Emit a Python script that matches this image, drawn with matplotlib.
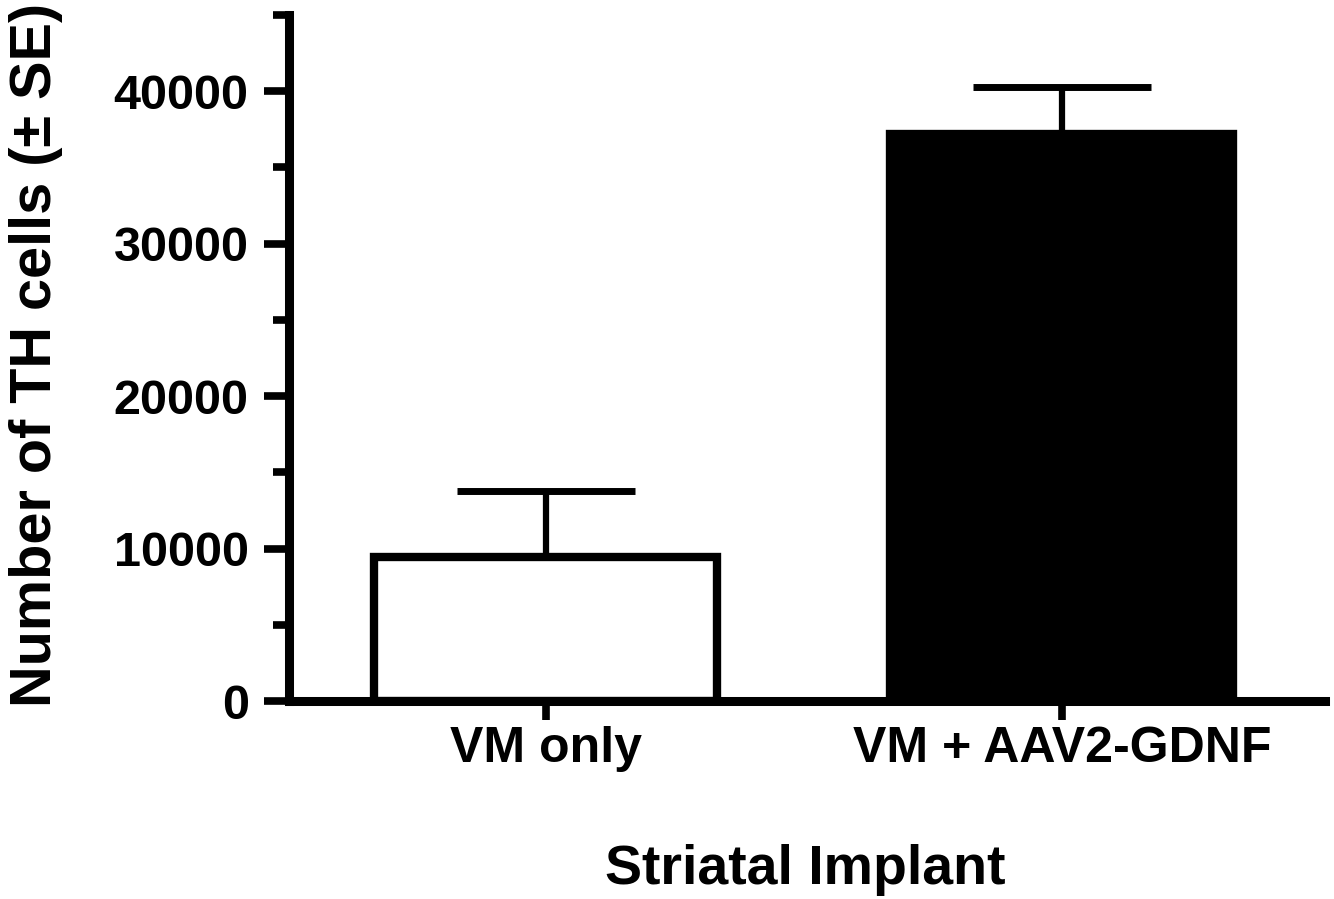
import matplotlib
matplotlib.use("Agg")
import matplotlib.pyplot as plt
from matplotlib.ticker import MultipleLocator

# values
groups = ["VM only", "VM + AAV2-GDNF"]
th_cells = [9450, 37200]
se_upper = [4300, 3100]
fills = ["white", "black"]

plt.rcParams['font.family'] = ['Liberation Sans', 'DejaVu Sans']
plt.rcParams['font.weight'] = 'bold'

fig = plt.figure(figsize=(13.34, 8.99), dpi=100)
ax = fig.add_axes([0.2166, 0.2202, 0.7767, 0.7631])

x = list(range(len(groups)))
ax.bar(x, th_cells, width=0.665, color=fills, edgecolor="black", linewidth=6, zorder=2)
ax.errorbar(x, th_cells, yerr=[[0] * len(x), se_upper], fmt="none", ecolor="black",
            elinewidth=4.5, capsize=64, capthick=5, zorder=1)

ax.set_xlim(-0.498, 1.51)
ax.set_ylim(0, 45000)
ax.yaxis.set_major_locator(MultipleLocator(10000))
ax.yaxis.set_minor_locator(MultipleLocator(5000))
ax.set_xticks(x)
ax.set_xticklabels(groups)

for side in ["top", "right"]:
    ax.spines[side].set_visible(False)
for side in ["left", "bottom"]:
    ax.spines[side].set_linewidth(6.5)

ax.tick_params(axis="y", which="major", length=18, width=5.5, pad=11, labelsize=35)
ax.tick_params(axis="y", which="minor", length=11.5, width=5.5)
ax.tick_params(axis="x", which="major", length=14, width=5.5, pad=4, labelsize=36)

fig.text(0.027, 0.605, "Number of TH cells (\u00b1 SE)", rotation=90, ha="center", va="center",
         fontsize=41.5, fontweight="bold")
fig.text(0.604, 0.032, "Striatal Implant", ha="center", va="center", fontsize=40, fontweight="bold")

fig.savefig("out.png", dpi=100)
